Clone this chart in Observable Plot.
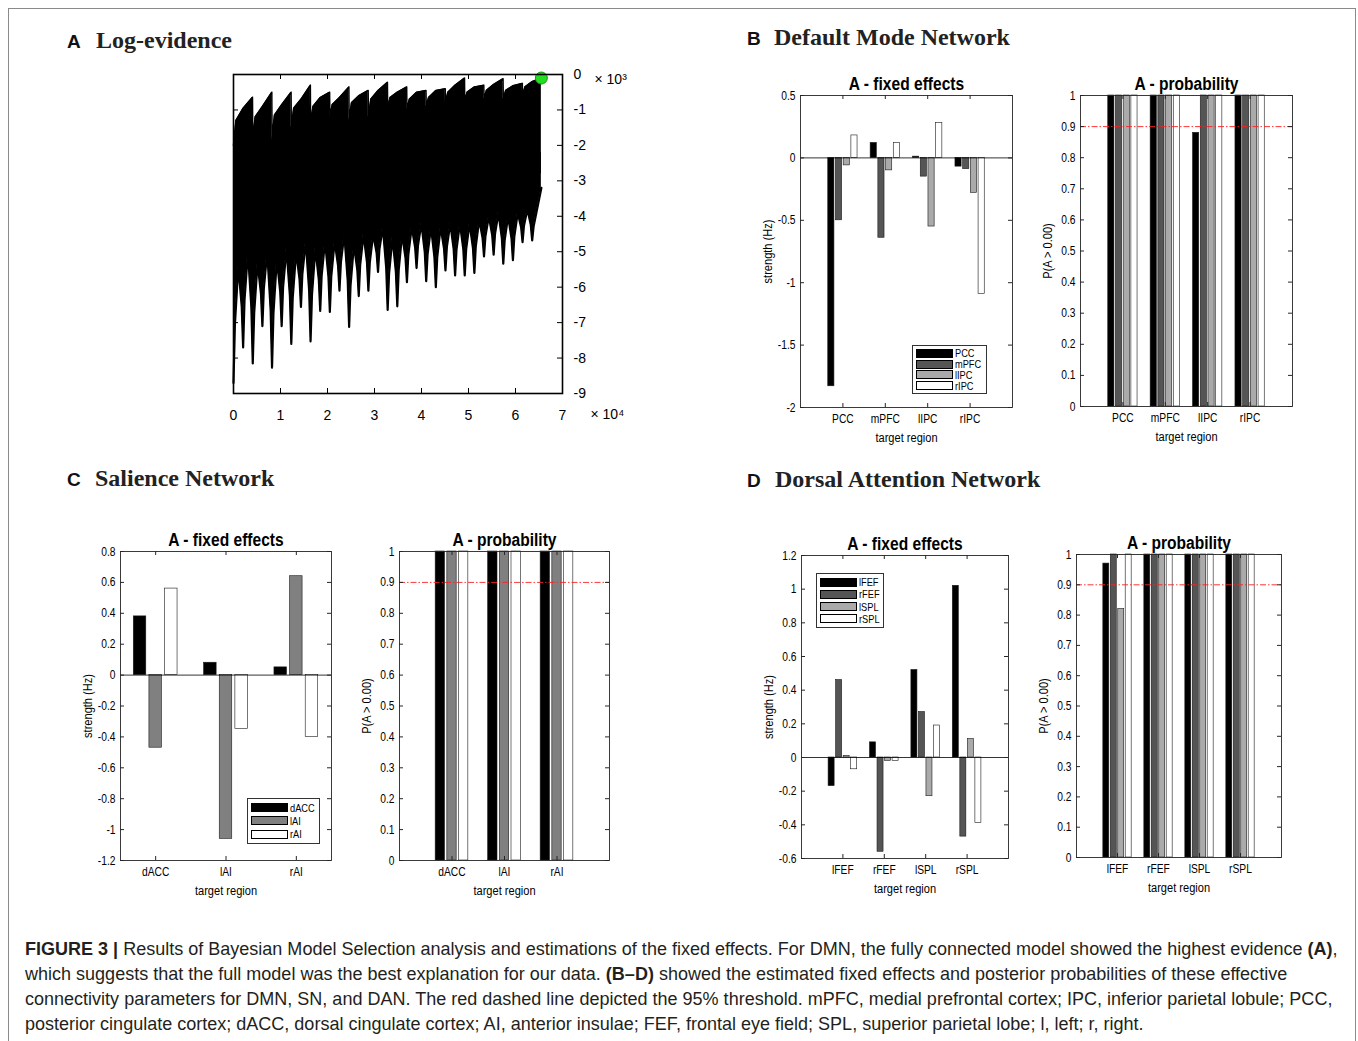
<!DOCTYPE html>
<html>
<head>
<meta charset="utf-8">
<script src="https://cdn.jsdelivr.net/npm/d3@7"></script>
<script src="https://cdn.jsdelivr.net/npm/@observablehq/plot@0.6"></script>
<style>
  body { margin: 0; background: #fff; }
  #fig { position: relative; width: 1358px; height: 1041px; overflow: hidden; background: #fff; }
  #border { position: absolute; left: 8px; top: 8px; width: 1348px; height: 1045px; border: 1px solid #8a8a8a; box-sizing: border-box; }
  .lt { position: absolute; white-space: nowrap; font-family: "Liberation Sans", Arial, sans-serif; font-weight: bold; font-size: 19px; line-height: 1; color: #111; }
  .tt { position: absolute; white-space: nowrap; font-family: "Liberation Serif", "Times New Roman", serif; font-weight: bold; font-size: 24px; line-height: 1; color: #222; }
  .leg { position: absolute; box-sizing: border-box; border: 1px solid #333; background: #fff; padding: 2px 0 2px 3px;
         font-family: "Liberation Sans", Arial, sans-serif; font-size: 11px; color: #000; }
  .leg .row { display: flex; align-items: center; white-space: nowrap; }
  .leg .sw { width: 37px; height: 9px; border: 1px solid #000; box-sizing: border-box; margin-right: 2px; flex: none; }
  .leg .lab { display: inline-block; transform: scaleX(0.84); transform-origin: left center; }
  #cap { position: absolute; left: 25px; top: 937px; line-height: 25px; font-family: "Liberation Sans", Arial, sans-serif; font-size: 17px; color: #231f20; white-space: nowrap; }
  #cap b { font-weight: bold; }
</style>
</head>
<body>
<div id="fig">
  <div id="border"></div>
</div>
<script>
// ---------------- DATA ----------------
// Panel A: log-evidence envelope (x in 10^4 models, y in 10^3)
const evidenceSpikeX = [0, 0.205, 0.41, 0.615, 0.82, 1.025, 1.23, 1.435, 1.64, 1.845, 2.05, 2.255, 2.46, 2.665, 2.87, 3.075,
  3.28, 3.485, 3.69, 3.895, 4.10, 4.305, 4.51, 4.715, 4.92, 5.125, 5.33, 5.535, 5.74, 5.945, 6.15, 6.355];
const evidenceSpikeTip = [-8.7, -7.7, -8.15, -7.1, -8.27, -7.1, -7.6, -6.56, -7.53, -6.67, -6.7, -6.1, -7.12, -6.25, -6.1, -5.57,
  -6.64, -6.54, -5.86, -5.46, -5.83, -6.0, -5.53, -5.67, -5.67, -5.6, -5.13, -5.08, -5.34, -5.24, -4.73, -4.68];
const evidenceGapBase = [-5.4, -5.0, -5.3, -5.0, -5.2, -4.9, -5.0, -4.7, -4.9, -4.7, -4.7, -4.5, -4.8, -4.5, -4.5, -4.3,
  -4.6, -4.5, -4.3, -4.2, -4.3, -4.3, -4.2, -4.2, -4.2, -4.1, -4.0, -3.9, -4.0, -3.9, -3.8, -3.9];
const evidenceEndX = [6.55];
const evidenceEndLow = [-3.2];
const evidenceTopX = [0, 0.05, 0.205, 0.404, 0.41, 0.46, 0.615, 0.815, 0.82, 0.87, 1.025, 1.225, 1.23, 1.28, 1.435, 1.635,
  1.64, 1.69, 1.845, 2.045, 2.05, 2.10, 2.255, 2.455, 2.46, 2.51, 2.665, 2.865, 2.87, 2.92, 3.075, 3.275,
  3.28, 3.33, 3.485, 3.685, 3.69, 3.74, 3.895, 4.095, 4.10, 4.15, 4.305, 4.505, 4.51, 4.56, 4.715, 4.915,
  4.92, 4.97, 5.125, 5.325, 5.33, 5.38, 5.535, 5.735, 5.74, 5.79, 5.945, 6.145, 6.15, 6.20, 6.355, 6.55];
const evidenceTopY = [-2.0, -1.3, -0.95, -0.64, -1.86, -1.2, -0.9, -0.5, -1.86, -1.15, -0.85, -0.5, -1.5, -0.95, -0.7, -0.3,
  -1.4, -0.9, -0.65, -0.5, -1.2, -0.85, -0.65, -0.35, -1.3, -0.8, -0.6, -0.45, -1.2, -0.7, -0.45, -0.22,
  -0.95, -0.65, -0.5, -0.35, -1.0, -0.7, -0.5, -0.45, -0.9, -0.65, -0.45, -0.4, -0.8, -0.5, -0.3, -0.1,
  -0.75, -0.5, -0.35, -0.3, -0.7, -0.45, -0.28, -0.12, -0.7, -0.45, -0.32, -0.25, -0.6, -0.35, -0.2, -0.1];
const bestModelX = [6.55];
const bestModelY = [-0.1];
const evidenceXTicks = [0, 1, 2, 3, 4, 5, 6, 7];
const evidenceYTicks = [-9, -8, -7, -6, -5, -4, -3, -2, -1, 0];

// Panel B: Default Mode Network (rows = target region, columns = source)
const dmnRegions = ["PCC", "mPFC", "lIPC", "rIPC"];
const dmnFixed = [
  [-1.83, -0.50, -0.06, 0.18],
  [0.12, -0.64, -0.10, 0.12],
  [0.01, -0.15, -0.55, 0.28],
  [-0.07, -0.09, -0.28, -1.09]
];
const dmnProb = [
  [1, 1, 1, 1],
  [1, 1, 1, 1],
  [0.88, 1, 1, 1],
  [1, 1, 1, 1]
];
const dmnFixedTicks = [-2, -1.5, -1, -0.5, 0, 0.5];

// Panel C: Salience Network
const snRegions = ["dACC", "lAI", "rAI"];
const snFixed = [
  [0.38, -0.47, 0.56],
  [0.08, -1.06, -0.35],
  [0.05, 0.64, -0.40]
];
const snProb = [
  [1, 1, 1],
  [1, 1, 1],
  [1, 1, 1]
];
const snFixedTicks = [-1.2, -1, -0.8, -0.6, -0.4, -0.2, 0, 0.2, 0.4, 0.6, 0.8];

// Panel D: Dorsal Attention Network
const danRegions = ["lFEF", "rFEF", "lSPL", "rSPL"];
const danFixed = [
  [-0.17, 0.46, 0.01, -0.07],
  [0.09, -0.56, -0.02, -0.02],
  [0.52, 0.27, -0.23, 0.19],
  [1.02, -0.47, 0.11, -0.39]
];
const danProb = [
  [0.97, 1, 0.82, 1],
  [1, 1, 1, 1],
  [1, 1, 1, 1],
  [1, 1, 1, 1]
];
const danFixedTicks = [-0.6, -0.4, -0.2, 0, 0.2, 0.4, 0.6, 0.8, 1, 1.2];

const probTicks = [0, 0.1, 0.2, 0.3, 0.4, 0.5, 0.6, 0.7, 0.8, 0.9, 1];
const probThreshold = 0.9;
const gray4 = ["#000000", "#555555", "#aaaaaa", "#ffffff"];
const gray3 = ["#000000", "#808080", "#ffffff"];

// ---------------- HELPERS ----------------
const fig = document.getElementById("fig");
const SANS = '"Liberation Sans", Arial, sans-serif';
const NARROW_SCALE = 0.82;

function place(node, left, top) {
  node.style.position = "absolute";
  node.style.left = left + "px";
  node.style.top = top + "px";
  fig.appendChild(node);
}

function narrowText(svg) {
  svg.querySelectorAll("text").forEach(t => {
    const tr = t.getAttribute("transform") || "";
    t.setAttribute("transform", (tr + ` scale(${NARROW_SCALE},1)`).trim());
  });
}

function header(letter, title, x1, x2, base) {
  const l = document.createElement("div");
  l.className = "lt"; l.textContent = letter;
  l.style.left = x1 + "px"; l.style.top = (base - 16) + "px";
  fig.appendChild(l);
  const t = document.createElement("div");
  t.className = "tt"; t.textContent = title;
  t.style.left = x2 + "px"; t.style.top = (base - 20) + "px";
  fig.appendChild(t);
}

function legend(left, top, w, h, names, colors) {
  const d = document.createElement("div");
  d.className = "leg";
  Object.assign(d.style, {left: left + "px", top: top + "px", width: w + "px", height: h + "px"});
  const rowH = (h - 6) / names.length;
  names.forEach((nm, i) => {
    const r = document.createElement("div"); r.className = "row"; r.style.height = rowH + "px";
    const sw = document.createElement("span"); sw.className = "sw"; sw.style.background = colors[i];
    const t = document.createElement("span"); t.className = "lab"; t.textContent = nm;
    r.append(sw, t); d.append(r);
  });
  fig.appendChild(d);
}

function barPanel(cfg) {
  const {box: [fl, fr, ft, fb], xlim, ylim, yticks, cats, values, colors, title, ylab, thr} = cfg;
  const fw = fr - fl, fh = fb - ft;
  const ml = 60, mr = 10, mt = 36, mb = 46;
  const n = colors.length;
  const gw = Math.min(0.8, n / (n + 1.5)), sp = gw / n, bw = 0.8 * sp;
  const bars = [];
  values.forEach((row, i) => row.forEach((v, j) => bars.push({k: i + 1, j, v, fill: colors[j]})));
  const pos = cats.map((c, i) => i + 1);
  const marks = [
    Plot.rect(bars, {
      x1: d => d.k + (d.j - (n - 1) / 2) * sp - bw / 2,
      x2: d => d.k + (d.j - (n - 1) / 2) * sp + bw / 2,
      y1: () => 0, y2: "v", fill: "fill", stroke: "#1a1a1a", strokeWidth: 0.6
    })
  ];
  if (ylim[0] < 0) marks.push(Plot.ruleY([0], {stroke: "#000", strokeWidth: 0.8}));
  if (thr != null) marks.push(Plot.ruleY([thr], {stroke: "#ff2020", strokeWidth: 0.9, strokeDasharray: "6,2,1.5,2"}));
  marks.push(
    Plot.frame({stroke: "#262626", strokeWidth: 0.9}),
    Plot.tickY(yticks, {y: d => d, insetRight: fw - 4, stroke: "#262626"}),
    Plot.tickY(yticks, {y: d => d, insetLeft: fw - 4, stroke: "#262626"}),
    Plot.tickX(pos, {x: d => d, insetTop: fh - 4, stroke: "#262626"}),
    Plot.tickX(pos, {x: d => d, insetBottom: fh - 4, stroke: "#262626"}),
    Plot.text([title], {text: d => d, frameAnchor: "top", dy: -6, lineAnchor: "bottom", textAnchor: "middle", fontWeight: "bold", fontSize: 19}),
    Plot.text([ylab], {text: d => d, frameAnchor: "left", dx: -33, rotate: -90, textAnchor: "middle", lineAnchor: "middle", fontSize: 13.5}),
    Plot.text(["target region"], {text: d => d, frameAnchor: "bottom", dy: 30, textAnchor: "middle", lineAnchor: "middle", fontSize: 13.5})
  );
  const svg = Plot.plot({
    width: fw + ml + mr, height: fh + mt + mb,
    marginLeft: ml, marginRight: mr, marginTop: mt, marginBottom: mb,
    style: {fontFamily: SANS, fontSize: "12.5px", background: "transparent", color: "#000", overflow: "visible"},
    x: {domain: xlim, ticks: pos, tickFormat: d => cats[d - 1], tickSize: 0, tickPadding: 7, label: null},
    y: {domain: ylim, ticks: yticks, tickFormat: d => String(d), tickSize: 0, tickPadding: 5, label: null},
    color: {type: "identity"},
    marks
  });
  narrowText(svg);
  place(svg, fl - ml, ft - mt);
}

// ---------------- PANEL A ----------------
(function () {
  const fl = 233, fr = 562, ft = 74, fb = 393;
  const fw = fr - fl, fh = fb - ft;
  const ml = 20, mr = 80, mt = 20, mb = 50;
  // lower envelope: spike tips joined through the gap bases read between neighbouring spikes
  const low = [{x: evidenceSpikeX[0], y: evidenceSpikeTip[0]}];
  evidenceSpikeX.forEach((x, i) => {
    const tip = evidenceSpikeTip[i], base = evidenceGapBase[i];
    low.push({x: x + 0.03, y: (tip + base) / 2});
    if (i < evidenceSpikeX.length - 1) {
      const nx = evidenceSpikeX[i + 1], ntip = evidenceSpikeTip[i + 1];
      low.push({x: (x + nx) / 2, y: base});
      low.push({x: nx - 0.03, y: (ntip + base) / 2});
      low.push({x: nx, y: ntip});
    }
  });
  evidenceEndX.forEach((x, i) => low.push({x, y: evidenceEndLow[i]}));
  const top = evidenceTopX.map((x, i) => ({x, y: evidenceTopY[i]}));
  const best = bestModelX.map((x, i) => ({x, y: bestModelY[i]}));
  const innerX = evidenceXTicks.filter(t => t > 0 && t < 7);
  const innerY = evidenceYTicks.filter(t => t > -9 && t < 0);
  const svg = Plot.plot({
    width: fw + ml + mr, height: fh + mt + mb,
    marginLeft: ml, marginRight: mr, marginTop: mt, marginBottom: mb,
    style: {fontFamily: SANS, fontSize: "14px", background: "transparent", color: "#000", overflow: "visible"},
    x: {domain: [0, 7], ticks: evidenceXTicks, tickFormat: d => String(d), tickSize: 0, tickPadding: 17, label: null},
    y: {domain: [-9, 0], axis: "right", ticks: evidenceYTicks, tickFormat: d => String(d), tickSize: 0, tickPadding: 11, label: null},
    marks: [
      Plot.areaY(top, {x: "x", y1: () => -2.8, y2: "y", fill: "#000"}),
      Plot.areaY(low, {x: "x", y1: "y", y2: () => -2.2, fill: "#000"}),
      Plot.line(top, {x: "x", y: "y", stroke: "#000", strokeWidth: 1.5}),
      Plot.line(low, {x: "x", y: "y", stroke: "#000", strokeWidth: 2.2}),
      Plot.dot(best, {x: "x", y: "y", r: 6, fill: "#22dd22", stroke: "#119911", strokeWidth: 1}),
      Plot.frame({stroke: "#000", strokeWidth: 1.6}),
      Plot.tickX(innerX, {x: d => d, insetTop: fh - 5, stroke: "#000"}),
      Plot.tickX(innerX, {x: d => d, insetBottom: fh - 5, stroke: "#000"}),
      Plot.tickY(innerY, {y: d => d, insetLeft: fw - 5, stroke: "#000"}),
      Plot.tickY(innerY, {y: d => d, insetRight: fw - 5, stroke: "#000"}),
      Plot.text(["× 10³"], {text: d => d, frameAnchor: "top-right", dx: 32, textAnchor: "start", fontSize: 14}),
      Plot.text(["× 10⁴"], {text: d => d, frameAnchor: "bottom-right", dx: 28, dy: 25, textAnchor: "start", fontSize: 14})
    ]
  });
  place(svg, fl - ml, ft - mt);
})();

// ---------------- PANELS B-D ----------------
barPanel({box: [800, 1012, 95, 407], xlim: [0, 5], ylim: [-2, 0.5], yticks: dmnFixedTicks, cats: dmnRegions,
  values: dmnFixed, colors: gray4, title: "A - fixed effects", ylab: "strength (Hz)"});
barPanel({box: [1080, 1292, 95, 406], xlim: [0, 5], ylim: [0, 1], yticks: probTicks, cats: dmnRegions,
  values: dmnProb, colors: gray4, title: "A - probability", ylab: "P(A > 0.00)", thr: probThreshold});
barPanel({box: [120, 331, 551, 860], xlim: [0.5, 3.5], ylim: [-1.2, 0.8], yticks: snFixedTicks, cats: snRegions,
  values: snFixed, colors: gray3, title: "A - fixed effects", ylab: "strength (Hz)"});
barPanel({box: [399, 609, 551, 860], xlim: [0, 4], ylim: [0, 1], yticks: probTicks, cats: snRegions,
  values: snProb, colors: gray3, title: "A - probability", ylab: "P(A > 0.00)", thr: probThreshold});
barPanel({box: [801, 1008, 555, 858], xlim: [0, 5], ylim: [-0.6, 1.2], yticks: danFixedTicks, cats: danRegions,
  values: danFixed, colors: gray4, title: "A - fixed effects", ylab: "strength (Hz)"});
barPanel({box: [1076, 1281, 554, 857], xlim: [0, 5], ylim: [0, 1], yticks: probTicks, cats: danRegions,
  values: danProb, colors: gray4, title: "A - probability", ylab: "P(A > 0.00)", thr: probThreshold});

legend(912, 345, 75, 49, dmnRegions, gray4);
legend(247, 798, 73, 46, snRegions, gray3);
legend(816, 573, 68, 55, danRegions, gray4);

header("A", "Log-evidence", 67, 96, 48);
header("B", "Default Mode Network", 747, 774, 45);
header("C", "Salience Network", 67, 95, 486);
header("D", "Dorsal Attention Network", 747, 775, 487);

// ---------------- CAPTION ----------------
const cap = document.createElement("div");
cap.id = "cap";
cap.innerHTML =
  '<span id="cl1"><b>FIGURE 3 |</b> Results of Bayesian Model Selection analysis and estimations of the fixed effects. For DMN, the fully connected model showed the highest evidence <b>(A)</b>,</span><br>' +
  'which suggests that the full model was the best explanation for our data. <b>(B–D)</b> showed the estimated fixed effects and posterior probabilities of these effective<br>' +
  'connectivity parameters for DMN, SN, and DAN. The red dashed line depicted the 95% threshold. mPFC, medial prefrontal cortex; IPC, inferior parietal lobule; PCC,<br>' +
  'posterior cingulate cortex; dACC, dorsal cingulate cortex; AI, anterior insulae; FEF, frontal eye field; SPL, superior parietal lobe; l, left; r, right.';
fig.appendChild(cap);
const w1 = document.getElementById("cl1").getBoundingClientRect().width;
if (w1 > 0) cap.style.fontSize = (17 * 1313 / w1).toFixed(2) + "px";
</script>
</body>
</html>
